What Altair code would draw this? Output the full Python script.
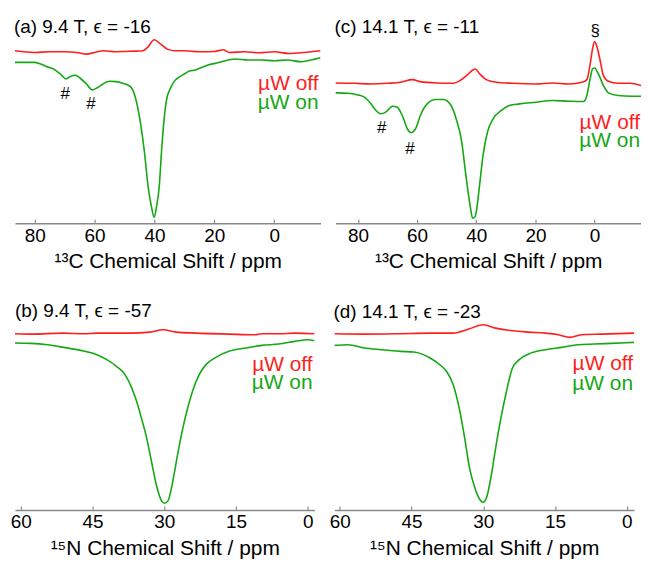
import altair as alt
import pandas as pd

# ---------------- data (ppm positions, intensities in arbitrary units) ----------------
# Panel (a): 13C, 9.4 T
a_off_ppm = [86.6, 80, 75, 70, 66, 62.7, 60, 57, 53, 50, 46, 43.9, 42.3, 40.1, 37.9, 35.7, 33, 30, 25, 20, 17, 15, 10, 5, 0, -5, -10, -15.5]
a_off_int = [520, 515, 517, 517, 515, 510, 515, 520, 517, 518, 519, 520, 530, 553, 540, 525, 520, 520, 517, 518, 523, 515, 517, 514, 517, 512, 515, 520]
a_on_ppm = [86.6, 80.3, 78, 75.9, 73.7, 71.5, 69.5, 68.2, 66.5, 64.9, 62.7, 60.8, 58.8, 57.2, 55, 52.8, 50.6, 48, 46.1, 44.8,
            43.4, 42.1, 41.0, 40.1, 39.3, 38.4, 37.6, 36.8, 36.0, 34.6, 33.2, 31.5, 30, 28.5, 26.3, 24.1, 21.9, 19.7, 17.5, 13.1,
            8.7, 4.3, 0, -4.5, -8.9, -12.2, -15.5]
a_on_int = [485, 485, 480, 472, 465, 450, 435, 442, 446, 438, 420, 402, 410, 420, 428, 427, 422, 412, 370, 310,
            220, 110, 50, 18, 50, 110, 220, 310, 370, 408, 430, 442, 450, 458, 462, 470, 478, 482, 487, 495,
            492, 492, 490, 492, 487, 492, 500]

# Panel (c): 13C, 14.1 T
c_off_ppm = [87.6, 81.2, 75.6, 70, 65.6, 61.6, 58.9, 53.3, 47.7, 45.5, 43.3, 41, 40.3, 38.8, 36.6, 33.2, 27.6, 19.8, 14.3, 8.7,
             4.2, 2.6, 1.4, 0.7, 0, -0.9, -1.9, -3, -4.7, -8, -11.9, -15.7]
c_off_int = [423, 422, 420, 422, 425, 433, 427, 423, 422, 430, 445, 463, 465, 450, 433, 425, 422, 420, 423, 420,
             425, 433, 485, 525, 548, 530, 490, 445, 428, 422, 422, 415]
c_on_ppm = [87.6, 83.4, 80, 77.8, 75.6, 73.9, 72.2, 70.6, 68.3, 66.7, 65, 63.3, 62, 60.5, 58.9, 56.6, 53.8, 51.1, 48.5, 46.8,
            44.9, 43.5, 42.1, 41.2, 40.4, 39.9, 39.0, 37.7, 36.2, 34.3, 31.5, 28.8, 25.4, 19.8, 14.3, 8.7, 3.7, 2.6, 1.4, 0.7,
            0, -1.3, -3, -4.7, -8, -12.5, -15.7]
c_on_int = [393, 392, 387, 380, 360, 340, 330, 335, 353, 350, 325, 285, 273, 285, 325, 360, 373, 373, 355, 315,
            245, 145, 55, 15, 20, 40, 105, 205, 275, 315, 340, 355, 360, 365, 370, 368, 367, 385, 440, 465,
            468, 450, 415, 393, 385, 383, 383]

# Panel (b): 15N, 9.4 T
b_off_ppm = [61.2, 57.9, 51, 46.8, 44.1, 37.2, 33, 30.3, 27.5, 23.4, 16.5, 11, 9.6, 6.1, 2.7, -1.4]
b_off_int = [531, 530, 533, 531, 533, 533, 536, 543, 536, 533, 530, 528, 531, 531, 533, 531]
b_on_ppm = [61.2, 57.9, 54.4, 51, 47.5, 44.1, 42, 40, 38.2, 36.8, 35.8, 34.8, 33.7, 32.7, 31.7, 30.6, 29.9, 29.2, 28.2, 27.2,
            26.1, 25.1, 24.1, 22.7, 21.3, 19.2, 16.5, 13, 9.6, 6.1, 2.7, 0, -1.4]
b_on_int = [503, 502, 498, 490, 481, 468, 453, 433, 408, 368, 328, 278, 218, 148, 78, 28, 20, 28, 88, 168,
            248, 308, 358, 408, 438, 460, 478, 488, 496, 500, 508, 513, 510]

# Panel (d): 15N, 14.1 T
d_off_ppm = [61.1, 54.8, 48, 41.1, 36.3, 32.9, 30, 27.4, 23.9, 20.5, 17, 14.3, 11.9, 9.5, 5.4, -1.5]
d_off_int = [531, 530, 531, 533, 533, 546, 558, 548, 540, 536, 533, 528, 520, 528, 530, 533]
d_on_ppm = [61.1, 58.3, 54.8, 51.4, 47.3, 44.5, 41.1, 38.7, 37.7, 36.3, 34.9, 33.9, 32.9, 31.8, 30.8, 30, 29.3, 28.4, 27.4, 26.3,
            25.3, 23.9, 22.5, 20.5, 17, 13.6, 10.2, 6.7, 3.3, -1.5]
d_on_int = [496, 498, 488, 483, 478, 476, 458, 433, 418, 378, 298, 218, 128, 68, 33, 23, 38, 98, 188, 278,
            348, 428, 453, 470, 483, 490, 498, 500, 502, 505]

# annotations
a_note_ppm = [69.8, 61.2]
a_note_int = [375, 345]
a_note_txt = ["#", "#"]
c_note_ppm = [72.0, 62.4, -0.2]
c_note_int = [273, 210, 565]
c_note_txt = ["#", "#", "§"]

titles = ["(a) 9.4 T, ϵ = -16", "(c) 14.1 T, ϵ = -11", "(b) 9.4 T, ϵ = -57", "(d) 14.1 T, ϵ = -23"]
c13_ticks = [80, 60, 40, 20, 0]
n15_ticks = [60, 45, 30, 15, 0]
c13_title = "¹³C Chemical Shift / ppm"
n15_title = "¹⁵N Chemical Shift / ppm"
legend_labels = ["µW off", "µW on"]

# ---------------- styling ----------------
FONT = "Liberation Sans"
RED = "#ff1e1e"
GREEN = "#14a814"
GRAY = "#8a8a8a"
H = 211
YMAX = 633


def panel(title, title_dx, title_y, width, yext, xdom, xticks, xtitle, off_ppm, off_int, on_ppm, on_int,
          leg_y, leg_dx, note_ppm=None, note_int=None, note_txt=None):
    off = pd.DataFrame({"ppm": off_ppm, "I": off_int})
    on = pd.DataFrame({"ppm": on_ppm, "I": on_int})
    xs = alt.Scale(domain=xdom, nice=False, zero=False)
    ys = alt.Scale(domain=[0, YMAX], nice=False, zero=False)
    x_main = alt.X("ppm:Q", scale=xs, axis=alt.Axis(
        values=xticks, title=xtitle, ticks=False, tickSize=0, domainColor=GRAY, domainWidth=1.5,
        labelFontSize=19, titleFontSize=21, labelFont=FONT, titleFont=FONT,
        labelColor="black", titleColor="black", titleFontWeight="normal",
        labelPadding=3, titlePadding=5.5, grid=False, labelFlush=False, labelOverlap=False))
    y_main = alt.Y("I:Q", scale=ys, axis=alt.Axis(
        labels=False, ticks=False, domain=False, grid=False, title=None,
        minExtent=yext, maxExtent=yext))
    x_none = alt.X("ppm:Q", scale=xs, axis=None)
    y_none = alt.Y("I:Q", scale=ys, axis=None)

    red = alt.Chart(off).mark_line(color=RED, strokeWidth=1.6, interpolate="monotone", clip=True).encode(
        x=x_main, y=y_main)
    green = alt.Chart(on).mark_line(color=GREEN, strokeWidth=1.6, interpolate="monotone", clip=True).encode(
        x=x_none, y=y_none)
    tick_layer = alt.Chart(off).mark_line(opacity=0).encode(
        x=alt.X("ppm:Q", scale=xs, axis=alt.Axis(
            orient="top", offset=-H, values=xticks, labels=False, domain=False, grid=False,
            ticks=True, tickSize=4, tickColor=GRAY, tickWidth=1.2, title=None)),
        y=y_none)
    ttl = alt.Chart(pd.DataFrame({"t": [title]})).mark_text(
        align="left", baseline="alphabetic", fontSize=19, font=FONT, color="black").encode(
        text="t:N", x=alt.value(title_dx), y=alt.value(title_y))
    leg_off = alt.Chart(pd.DataFrame({"t": [legend_labels[0]]})).mark_text(
        align="right", baseline="alphabetic", fontSize=21, font=FONT, color=RED).encode(
        text="t:N", x=alt.value(width - leg_dx), y=alt.value(leg_y[0]))
    leg_on = alt.Chart(pd.DataFrame({"t": [legend_labels[1]]})).mark_text(
        align="right", baseline="alphabetic", fontSize=21, font=FONT, color=GREEN).encode(
        text="t:N", x=alt.value(width - leg_dx), y=alt.value(leg_y[1]))
    layers = [red, green, tick_layer, ttl, leg_off, leg_on]
    if note_ppm:
        nd = pd.DataFrame({"ppm": note_ppm, "I": note_int, "t": note_txt})
        notes = alt.Chart(nd).mark_text(fontSize=17, font=FONT, baseline="alphabetic", color="black").encode(
            x=x_none, y=y_none, text="t:N")
        layers.append(notes)
    return alt.layer(*layers).properties(width=width, height=H).resolve_axis(x="independent")


pa = panel(titles[0], -1, 20.3, 307, 1, [86.6, -15.5], c13_ticks, c13_title, a_off_ppm, a_off_int, a_on_ppm, a_on_int,
           [77.3, 96.3], 2, a_note_ppm, a_note_int, a_note_txt)
pc = panel(titles[1], -1, 20.3, 307, 1, [87.6, -15.7], c13_ticks, c13_title, c_off_ppm, c_off_int, c_on_ppm, c_on_int,
           [116, 134], 1, c_note_ppm, c_note_int, c_note_txt)
pb = panel(titles[2], 0, 16.7, 301, 7, [61.2, -1.4], n15_ticks, n15_title, b_off_ppm, b_off_int, b_on_ppm, b_on_int,
           [71, 89], 2)
pd_ = panel(titles[3], -1, 17.7, 301, 7, [61.1, -1.5], n15_ticks, n15_title, d_off_ppm, d_off_int, d_on_ppm, d_on_int,
            [70, 90], 1)

top = alt.hconcat(pa, pc, spacing=14)
bottom = alt.hconcat(pb, pd_, spacing=14)
chart = alt.vconcat(top, bottom, spacing=28).properties(
    padding={"top": 4, "left": 2, "right": 0, "bottom": 0},
    background="white",
).configure_view(stroke=None)

chart.save("out.html", embed_options={"renderer": "svg", "actions": False})
